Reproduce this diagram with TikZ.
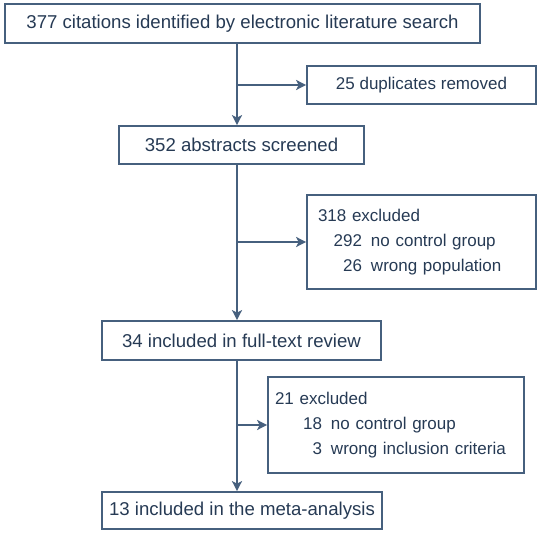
\documentclass[tikz,border=0pt]{standalone}
\usepackage{fontspec}
\setmainfont{Liberation Sans}
\usepackage{tikz}
\usetikzlibrary{arrows.meta}

\definecolor{linecol}{HTML}{46607E}
\definecolor{textcol}{HTML}{263A54}
\newcommand{\reason}[3]{\makebox[#1][r]{#2}\hspace{9pt}#3}

\begin{document}
\begin{tikzpicture}[x=1pt,y=-1pt,
  box/.style={draw=linecol,line width=1.7pt,text=textcol,inner sep=0pt,
    font=\fontsize{18.6}{25}\selectfont},
  sidebox/.style={box,font=\fontsize{17}{25}\selectfont},
  flow/.style={-{Stealth[length=10pt,width=10pt,inset=2.5pt]},draw=linecol,line width=1.7pt}]
\useasboundingbox (0,0) rectangle (546,534);

\node[box,minimum width=475,minimum height=39] (A) at (242.5,23.5) {377 citations identified by electronic literature search};
\node[sidebox,minimum width=229,minimum height=38] (B) at (421.5,85) {25 duplicates removed};
\node[box,minimum width=245,minimum height=38] (C) at (241.5,145) {352 abstracts screened};
\node[sidebox,minimum width=229,minimum height=94,text width=207,inner xsep=11pt,align=left] (D) at (421.5,242)
  {318 excluded\\ \reason{44pt}{292}{no control group}\\ \reason{44pt}{26}{wrong population}};
\node[box,minimum width=279,minimum height=39] (E) at (241.5,340.5) {34 included in full-text review};
\node[sidebox,minimum width=256,minimum height=96,text width=242,inner xsep=7pt,align=left] (F) at (396,425)
  {21 excluded\\ \reason{47pt}{18}{no control group}\\ \reason{47pt}{3}{wrong inclusion criteria}};
\node[box,minimum width=280,minimum height=37] (G) at (242,510.5) {13 included in the meta-analysis};

% branch points on the main line
\coordinate (b1) at (237,85);
\coordinate (b2) at (237,242);
\coordinate (b3) at (237,425);

\draw[flow] (A.south -| b1) to (C.north -| b1);
\draw[flow] (C.south -| b2) to (E.north -| b2);
\draw[flow] (E.south -| b3) to (G.north -| b3);
\draw[flow] (b1) to (B.west);
\draw[flow] (b2) to (D.west);
\draw[flow] (b3) to (F.west);

\end{tikzpicture}
\end{document}
